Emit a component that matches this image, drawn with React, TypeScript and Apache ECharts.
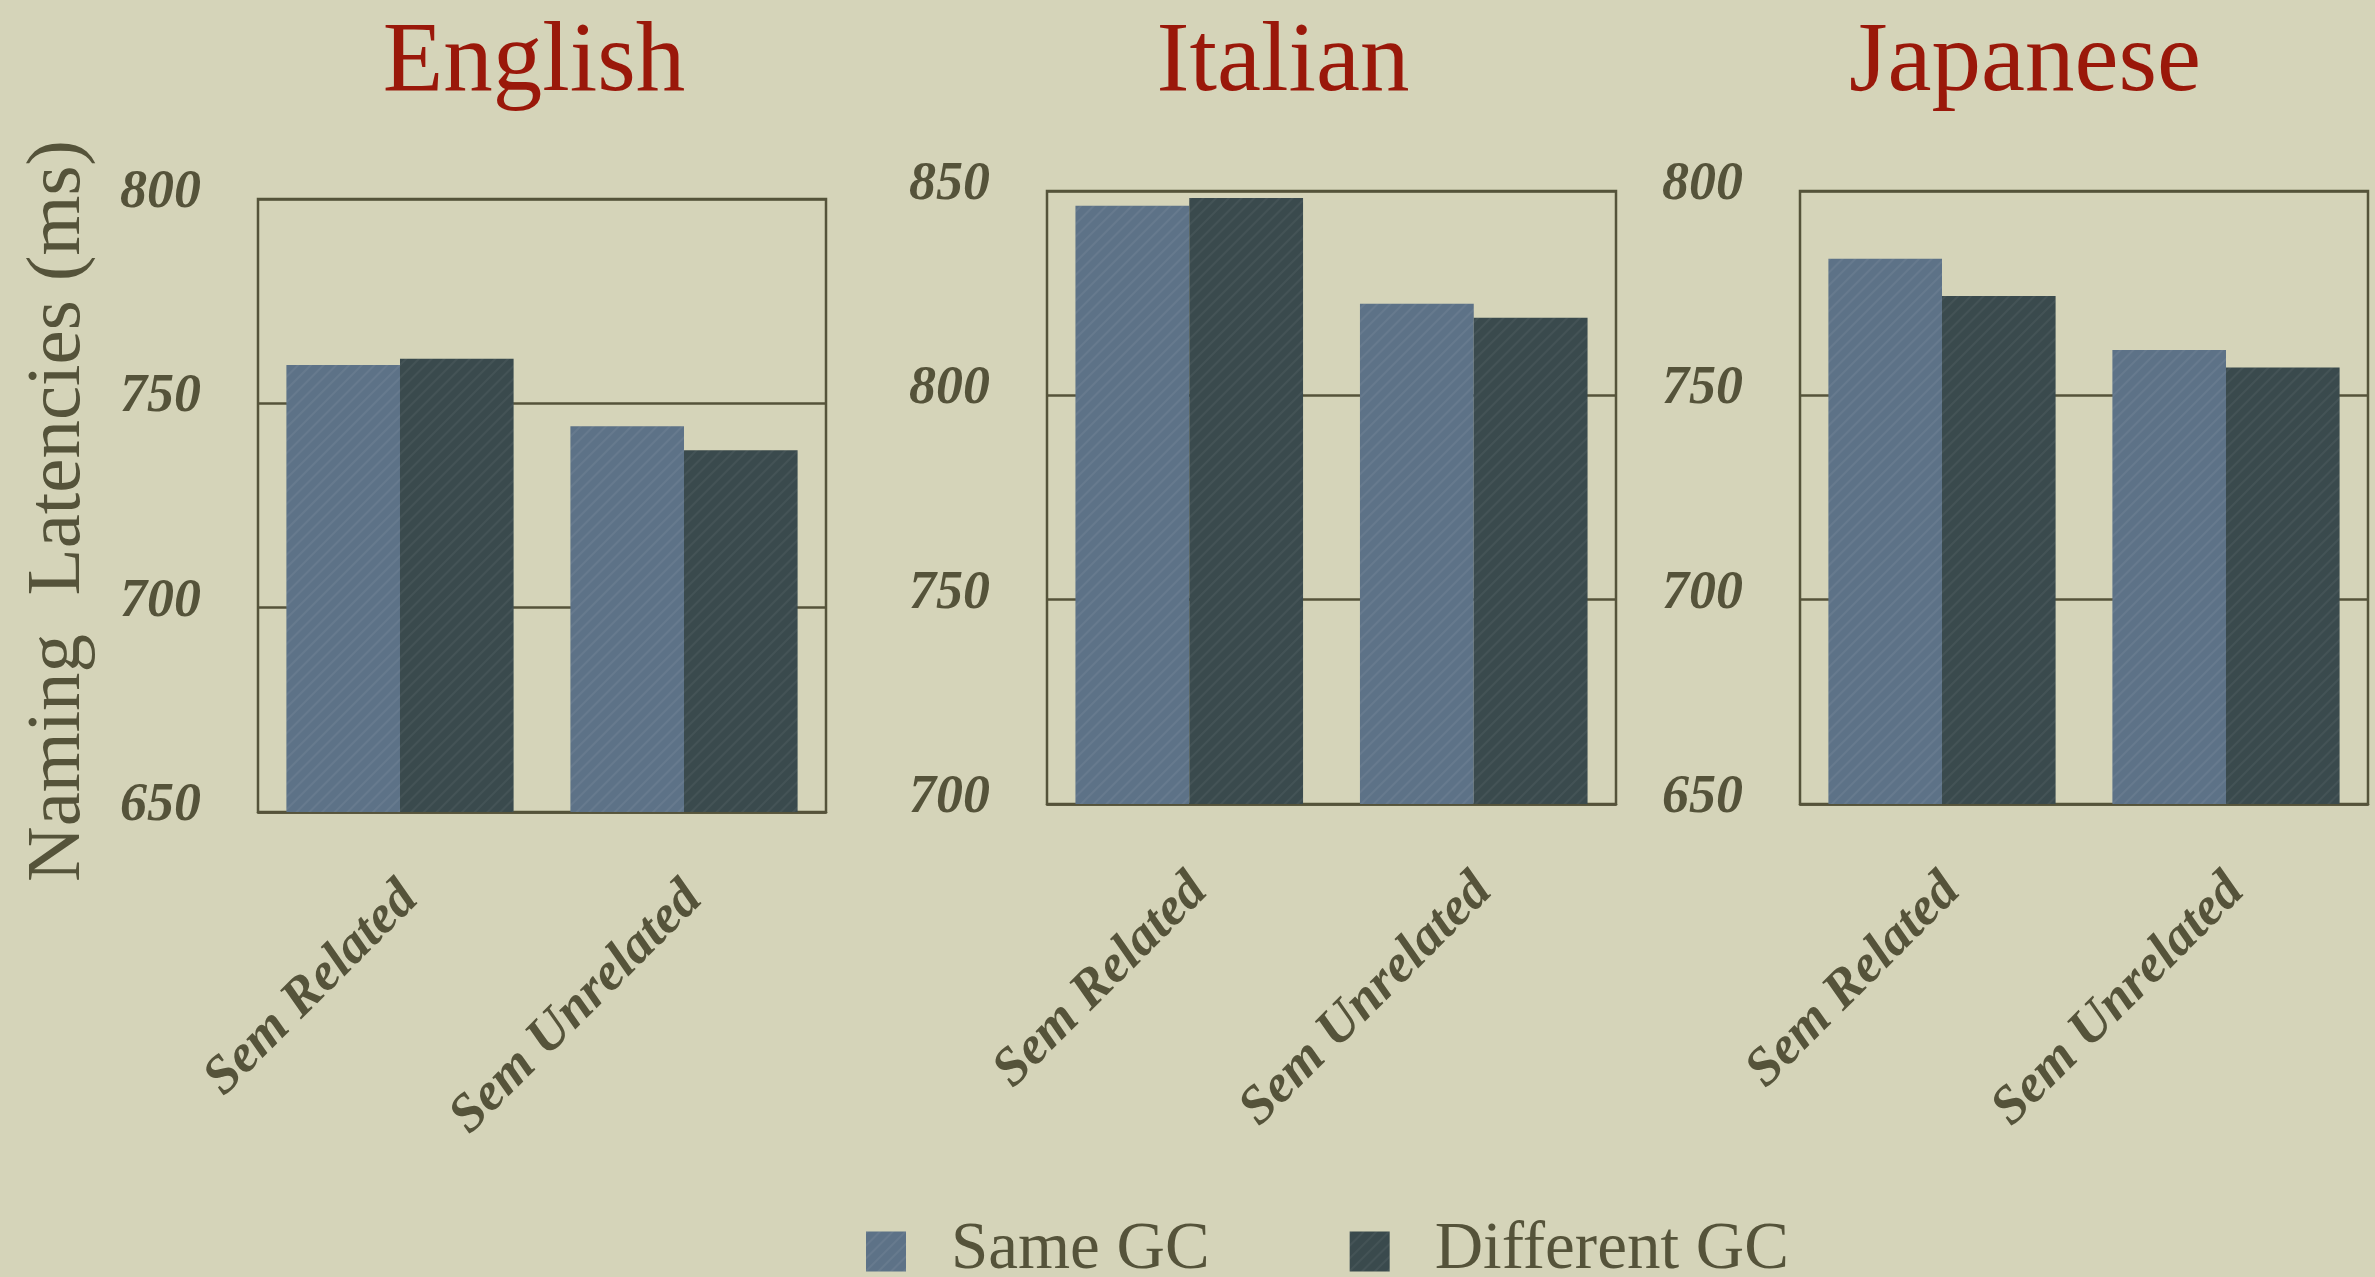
import React, { useEffect, useRef } from 'react';
import * as echarts from 'echarts';

// ---- data ----
const categories = ['Sem Related', 'Sem Unrelated'];
const seriesNames = ['Same GC', 'Different GC'];
const panelTitles = ['English', 'Italian', 'Japanese'];
const englishSame = [759.4, 744.4];
const englishDifferent = [760.9, 738.5];
const italianSame = [846.4, 822.4];
const italianDifferent = [848.3, 819.0];
const japaneseSame = [783.4, 761.1];
const japaneseDifferent = [774.3, 756.8];
const englishTicks = [650, 700, 750, 800];
const italianTicks = [700, 750, 800, 850];
const japaneseTicks = [650, 700, 750, 800];
const yAxisTitle = 'Naming  Latencies (ms)';

// ---- style / layout ----
const BG = '#d5d4b9';
const INK = '#55533a';
const TITLE_RED = '#9a180a';
const SAME_COLOR = '#5d7287';
const DIFF_COLOR = '#3a4a4d';
const FONT = '"Liberation Serif", "Times New Roman", serif';

const grids = [
  { left: 258, top: 199, width: 568, height: 613 },
  { left: 1047, top: 191, width: 569, height: 613 },
  { left: 1800, top: 191, width: 568, height: 613 },
];
const titleCenters = [534, 1283, 2025];

export default function App() {
  const ref = useRef<HTMLDivElement>(null);

  useEffect(() => {
    if (!ref.current) return;
    const chart = echarts.init(ref.current, undefined, { renderer: 'svg' });

    const panels = [
      { same: englishSame, diff: englishDifferent, ticks: englishTicks },
      { same: italianSame, diff: italianDifferent, ticks: italianTicks },
      { same: japaneseSame, diff: japaneseDifferent, ticks: japaneseTicks },
    ];

    const decalFor = (c: string) => ({
      symbol: 'rect',
      symbolSize: 1,
      color: c,
      dashArrayX: [1, 0],
      dashArrayY: [2, 7],
      rotation: -Math.PI / 4,
    });

    const option: any = {
      animation: false,
      backgroundColor: BG,
      aria: { enabled: true, decal: { show: true } },
      title: panelTitles.map((t, i) => ({
        text: t,
        left: titleCenters[i],
        top: 7,
        padding: 0,
        textAlign: 'center',
        textStyle: {
          fontFamily: FONT,
          fontSize: 99,
          fontWeight: 'normal',
          color: TITLE_RED,
        },
      })),
      legend: {
        data: seriesNames,
        left: 861,
        top: 1206,
        icon: 'rect',
        itemWidth: 40,
        itemHeight: 40,
        itemGap: 140,
        formatter: '{t|{name}}',
        textStyle: {
          fontFamily: FONT,
          fontSize: 67,
          color: INK,
          padding: [0, 0, 0, 40],
          rich: {
            t: {
              fontFamily: FONT,
              fontSize: 67,
              lineHeight: 56,
              color: INK,
              padding: [0, 0, 14, 0],
            },
          },
        },
      },
      grid: grids.map((g) => ({
        ...g,
        show: true,
        borderColor: INK,
        borderWidth: 2.5,
        backgroundColor: 'transparent',
        containLabel: false,
      })),
      xAxis: panels.map((_, i) => ({
        type: 'category',
        gridIndex: i,
        data: categories,
        axisTick: { show: false },
        axisLine: { show: true, lineStyle: { color: INK, width: 2.5 } },
        axisLabel: {
          interval: 0,
          rotate: 45,
          margin: 69,
          verticalAlign: 'top',
          lineHeight: 20,
          fontFamily: FONT,
          fontSize: 54,
          fontWeight: 'bold',
          fontStyle: 'italic',
          color: INK,
        },
      })),
      yAxis: panels.map((p, i) => ({
        type: 'value',
        gridIndex: i,
        min: p.ticks[0],
        max: p.ticks[p.ticks.length - 1],
        interval: p.ticks[1] - p.ticks[0],
        axisLine: { show: false },
        axisTick: { show: false },
        splitLine: { show: true, lineStyle: { color: INK, width: 2.5 } },
        axisLabel: {
          margin: 57,
          verticalAlign: 'bottom',
          lineHeight: 20,
          fontFamily: FONT,
          fontSize: 54,
          fontWeight: 'bold',
          fontStyle: 'italic',
          color: INK,
        },
      })),
      series: panels.flatMap((p, i) => [
        {
          name: seriesNames[0],
          type: 'bar',
          xAxisIndex: i,
          yAxisIndex: i,
          data: p.same,
          barGap: '0%',
          barCategoryGap: '20%',
          itemStyle: { color: SAME_COLOR, decal: decalFor('rgba(255,255,255,0.06)') },
        },
        {
          name: seriesNames[1],
          type: 'bar',
          xAxisIndex: i,
          yAxisIndex: i,
          data: p.diff,
          barGap: '0%',
          barCategoryGap: '20%',
          itemStyle: { color: DIFF_COLOR, decal: decalFor('rgba(255,255,255,0.05)') },
        },
      ]),
      graphic: [
        {
          type: 'text',
          x: 53,
          y: 511,
          rotation: Math.PI / 2,
          style: {
            text: yAxisTitle,
            fontFamily: FONT,
            fontSize: 77,
            fill: INK,
            textAlign: 'center',
            textVerticalAlign: 'middle',
          },
        },
      ],
    };

    chart.setOption(option);
    return () => chart.dispose();
  }, []);

  return (
    <div
      ref={ref}
      style={{ position: 'absolute', left: 0, top: 0, width: 2375, height: 1277 }}
    />
  );
}
